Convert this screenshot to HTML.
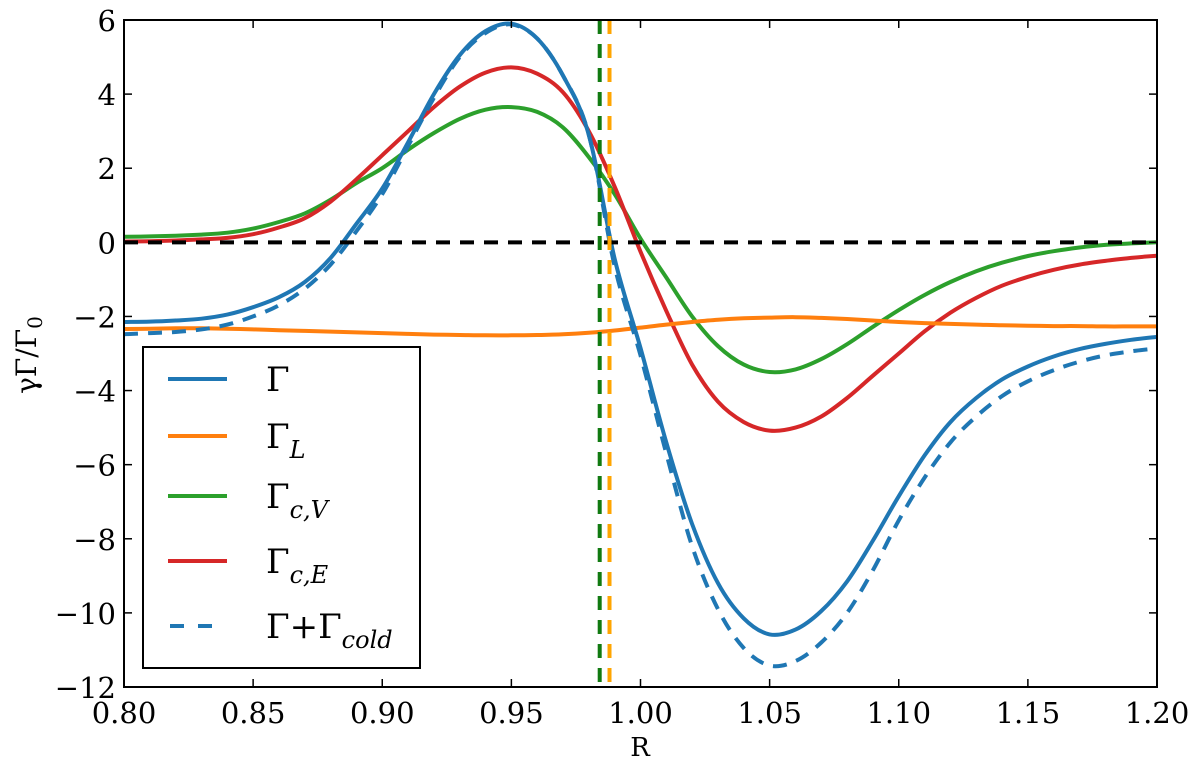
<!DOCTYPE html>
<html><head><meta charset="utf-8"><style>
body{margin:0;background:#fff;}
svg text{font-family:"DejaVu Serif","Liberation Serif",serif;fill:#000;}
</style></head><body>
<svg id="chart" width="1200" height="770" xmlns="http://www.w3.org/2000/svg">
<g id="marks"></g>
<g id="axes"></g>
<g id="legend">
<rect x="143" y="347" width="277" height="321" fill="#fff" stroke="#000" stroke-width="2"/>
<line x1="168" y1="379" x2="227" y2="379" stroke="#1f77b4" stroke-width="4"/>
<text x="266" y="391" font-size="34">Γ</text>
<line x1="168" y1="436" x2="227" y2="436" stroke="#ff7f0e" stroke-width="4"/>
<text x="266" y="448" font-size="34">Γ<tspan font-style="italic" font-size="24" dy="10">L</tspan></text>
<line x1="168" y1="496" x2="227" y2="496" stroke="#2ca02c" stroke-width="4"/>
<text x="266" y="508" font-size="34">Γ<tspan font-style="italic" font-size="24" dy="10">c,V</tspan></text>
<line x1="168" y1="561" x2="227" y2="561" stroke="#d62728" stroke-width="4"/>
<text x="266" y="573" font-size="34">Γ<tspan font-style="italic" font-size="24" dy="10">c,E</tspan></text>
<line x1="170" y1="626" x2="212" y2="626" stroke="#1f77b4" stroke-width="4" stroke-dasharray="14,14"/>
<text x="266" y="638" font-size="34">Γ+Γ<tspan font-style="italic" font-size="24" dy="10">cold</tspan></text>
</g>
</svg>
<script>
const R = [0.80,0.81,0.82,0.83,0.84,0.85,0.86,0.87,0.88,0.89,0.90,0.91,0.92,0.93,0.94,0.95,0.96,0.97,0.98,0.99,1.00,1.01,1.02,1.03,1.04,1.05,1.06,1.07,1.08,1.09,1.10,1.11,1.12,1.13,1.14,1.15,1.16,1.17,1.18,1.19,1.20];
const gammaTot = [-2.15,-2.14,-2.11,-2.06,-1.95,-1.75,-1.48,-1.07,-0.42,0.5,1.45,2.7,4.0,5.05,5.7,5.9,5.5,4.5,2.9,-0.45,-2.85,-5.4,-7.6,-9.2,-10.15,-10.58,-10.45,-9.95,-9.15,-8.05,-6.85,-5.75,-4.85,-4.2,-3.7,-3.35,-3.08,-2.88,-2.74,-2.63,-2.55];
const gammaL = [-2.34,-2.33,-2.32,-2.32,-2.33,-2.35,-2.37,-2.39,-2.41,-2.43,-2.45,-2.47,-2.49,-2.5,-2.51,-2.51,-2.5,-2.48,-2.44,-2.38,-2.3,-2.22,-2.15,-2.09,-2.05,-2.03,-2.02,-2.04,-2.07,-2.11,-2.15,-2.18,-2.2,-2.22,-2.24,-2.25,-2.26,-2.26,-2.27,-2.27,-2.27];
const gammaCV = [0.15,0.16,0.18,0.21,0.26,0.37,0.55,0.78,1.15,1.6,2.0,2.5,2.95,3.33,3.58,3.65,3.52,3.1,2.3,1.3,0.1,-0.95,-2.0,-2.8,-3.3,-3.5,-3.43,-3.15,-2.75,-2.28,-1.83,-1.42,-1.07,-0.78,-0.55,-0.37,-0.24,-0.14,-0.07,-0.03,0.0];
const gammaCE = [0.02,0.03,0.05,0.08,0.12,0.22,0.4,0.65,1.1,1.7,2.35,3.0,3.65,4.2,4.58,4.72,4.55,4.05,3.0,1.5,-0.25,-1.85,-3.3,-4.3,-4.85,-5.08,-5.0,-4.7,-4.2,-3.6,-3.0,-2.4,-1.9,-1.5,-1.17,-0.93,-0.74,-0.6,-0.5,-0.42,-0.36];
const gammaCold = [-2.48,-2.45,-2.42,-2.35,-2.22,-2.0,-1.7,-1.25,-0.6,0.3,1.3,2.6,3.9,5.0,5.65,5.88,5.5,4.5,2.9,-0.65,-3.05,-5.7,-8.2,-9.9,-10.95,-11.42,-11.3,-10.8,-10.0,-8.85,-7.5,-6.35,-5.4,-4.7,-4.15,-3.75,-3.45,-3.22,-3.05,-2.94,-2.86];
const vlines = [0.9842, 0.988];
const xTicks = [0.80,0.85,0.90,0.95,1.00,1.05,1.10,1.15,1.20];
const yTicks = [6,4,2,0,-2,-4,-6,-8,-10,-12];

const L=124,Rr=1157,T=20,B=687;
const xs=v=>L+(v-0.8)/0.4*(Rr-L);
const ys=v=>T+(6-v)/18*(B-T);
const NS='http://www.w3.org/2000/svg';
const marks=document.getElementById('marks'), axes=document.getElementById('axes');
function mk(tag,attrs,parent){const e=document.createElementNS(NS,tag);for(const k in attrs)e.setAttribute(k,attrs[k]);parent.appendChild(e);return e;}
const clip=mk('clipPath',{id:'pc'},marks);mk('rect',{x:L,y:T,width:Rr-L,height:B-T},clip);
function smoothPath(pts){
  let d='M'+pts[0][0].toFixed(1)+','+pts[0][1].toFixed(1);
  for(let i=0;i<pts.length-1;i++){
    const p0=pts[Math.max(0,i-1)],p1=pts[i],p2=pts[i+1],p3=pts[Math.min(pts.length-1,i+2)];
    const c1x=p1[0]+(p2[0]-p0[0])/6,c1y=p1[1]+(p2[1]-p0[1])/6;
    const c2x=p2[0]-(p3[0]-p1[0])/6,c2y=p2[1]-(p3[1]-p1[1])/6;
    d+='C'+c1x.toFixed(1)+','+c1y.toFixed(1)+' '+c2x.toFixed(1)+','+c2y.toFixed(1)+' '+p2[0].toFixed(1)+','+p2[1].toFixed(1);
  }
  return d;
}
function series(vals,color,name,dash){
  const d=smoothPath(vals.map((v,i)=>[xs(R[i]),ys(v)]));
  const p=mk('path',{d:d,fill:'none',stroke:color,'stroke-width':4,'clip-path':'url(#pc)','stroke-linejoin':'round'},marks);
  if(dash)p.setAttribute('stroke-dasharray',dash);
  
  
}
series(gammaCV,'#2ca02c','series-gamma-cv');
series(gammaCE,'#d62728','series-gamma-ce');
series(gammaL,'#ff7f0e','series-gamma-l');
series(gammaCold,'#1f77b4','series-gamma-cold','14,10');
series(gammaTot,'#1f77b4','series-gamma');
const zl=mk('line',{x1:L,x2:Rr,y1:ys(0),y2:ys(0),stroke:'#000','stroke-width':4,'stroke-dasharray':'14,10'},marks);


['#117a11','#ffa500'].forEach((c,i)=>{
  const l=mk('line',{x1:xs(vlines[i]),x2:xs(vlines[i]),y1:T,y2:B,stroke:c,'stroke-width':4,'stroke-dasharray':'14,10'},marks);
  
  
});
const fr=mk('rect',{x:L,y:T,width:Rr-L,height:B-T,fill:'none',stroke:'#000','stroke-width':2},axes);


xTicks.forEach(v=>{
  const x=xs(v);
  mk('line',{x1:x,x2:x,y1:B,y2:B-8,stroke:'#000','stroke-width':1.5},axes);
  mk('line',{x1:x,x2:x,y1:T,y2:T+8,stroke:'#000','stroke-width':1.5},axes);
  const t=mk('text',{x:x,y:B+36,'text-anchor':'middle','font-size':29},axes);
  t.textContent=v.toFixed(2);
  
  
});
yTicks.forEach(v=>{
  const y=ys(v);
  mk('line',{x1:L,x2:L+8,y1:y,y2:y,stroke:'#000','stroke-width':1.5},axes);
  mk('line',{x1:Rr,x2:Rr-8,y1:y,y2:y,stroke:'#000','stroke-width':1.5},axes);
  const t=mk('text',{x:L-8,y:y+11,'text-anchor':'end','font-size':29},axes);
  t.textContent=v<0?'\u2212'+Math.abs(v):String(v);
  
  
});
const xt=mk('text',{x:640,y:756,'text-anchor':'middle','font-size':26},axes);
xt.textContent='R';


const yt=mk('text',{x:0,y:0,'text-anchor':'middle','font-size':28,transform:'translate(36,355) rotate(-90)'},axes);
yt.innerHTML='γΓ/Γ<tspan font-size="20" dy="6">0</tspan>';


</script>
</body></html>
